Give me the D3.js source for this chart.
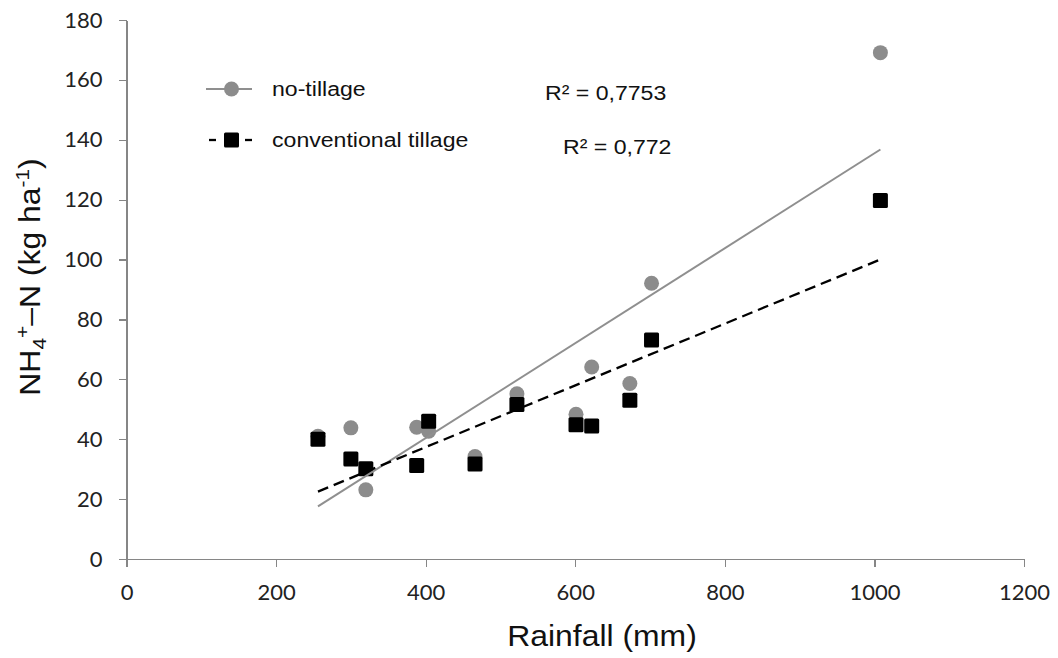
<!DOCTYPE html>
<html lang="en">
<head>
<meta charset="utf-8">
<title>NH4-N vs rainfall</title>
<script src="https://d3js.org/d3.v7.min.js"></script>
<style>
body { margin: 0; background: #fff; }
.axis path, .axis line { fill: none; stroke: #868686; stroke-width: 1.3; shape-rendering: crispEdges; }
.axis text { font: 22px Lato, sans-serif; fill: #222; }
.title { font-family: "Liberation Sans", Arial, sans-serif; fill: #111; }
</style>
</head>
<body>
<div id="chart"></div>
<script>
// values
var rainfall   = [256, 300, 320, 388, 404, 466, 522, 601, 622, 673, 702, 1008];
var noTillage  = [41, 43.8, 23.1, 44, 42.7, 34.2, 55.2, 48.3, 64.1, 58.6, 92.1, 169.1];
var convTillage = [40, 33.4, 30.1, 31.2, 46, 31.7, 51.6, 44.8, 44.4, 53, 73.1, 119.7];
var seriesNames = ["no-tillage", "conventional tillage"];
var r2Labels = ["R\u00b2 = 0,7753", "R\u00b2 = 0,772"];
var xTicks = [0, 200, 400, 600, 800, 1000, 1200];
var yTicks = [0, 20, 40, 60, 80, 100, 120, 140, 160, 180];

var W = 1058, H = 658;
var sx = 1.1; // the source text is a little wider than it is tall

var svg = d3.select("#chart").append("svg")
  .attr("width", W)
  .attr("height", H);

var x = d3.scaleLinear().domain([0, 1200]).range([126.5, 1024]);
var y = d3.scaleLinear().domain([0, 180]).range([559, 20]);

// axes
svg.append("g")
  .attr("class", "axis")
  .attr("transform", "translate(0," + y(0) + ")")
  .call(d3.axisBottom(x).tickValues(xTicks).tickSize(8).tickSizeOuter(0).tickPadding(17).tickFormat(d3.format("d")));

svg.append("g")
  .attr("class", "axis")
  .attr("transform", "translate(" + x(0) + ",0)")
  .call(d3.axisLeft(y).tickValues(yTicks).tickSize(8).tickSizeOuter(0).tickPadding(16).tickFormat(d3.format("d")));

// least squares fit, drawn from first to last rainfall value
function fit(xs, ys) {
  var mx = d3.mean(xs), my = d3.mean(ys);
  var sxy = d3.sum(xs, function(v, i) { return (v - mx) * (ys[i] - my); });
  var sxx = d3.sum(xs, function(v) { return (v - mx) * (v - mx); });
  var b = sxy / sxx;
  return { b: b, a: my - b * mx };
}

var series = [
  { name: seriesNames[0], vals: noTillage, color: "#8c8c8c", dash: null, shape: "circle" },
  { name: seriesNames[1], vals: convTillage, color: "#000", dash: "11,6", shape: "square" }
];

var xr = d3.extent(rainfall);
var line = d3.line().x(function(d) { return x(d[0]); }).y(function(d) { return y(d[1]); });

function drawMarker(g, shape, color, cx, cy) {
  if (shape == "circle") {
    g.append("circle").attr("cx", cx).attr("cy", cy).attr("r", 7.5).attr("fill", color);
  } else {
    g.append("rect").attr("x", cx - 7.5).attr("y", cy - 7.5)
      .attr("width", 15).attr("height", 15).attr("rx", 1.5).attr("fill", color);
  }
}

// points
series.forEach(function(s) {
  var g = svg.append("g");
  s.vals.forEach(function(v, i) {
    drawMarker(g, s.shape, s.color, x(rainfall[i]), y(v));
  });
});

// trend lines on top of the markers
series.forEach(function(s) {
  var f = fit(rainfall, s.vals);
  svg.append("path")
    .attr("d", line([[xr[0], f.a + f.b * xr[0]], [xr[1], f.a + f.b * xr[1]]]))
    .attr("fill", "none")
    .attr("stroke", s.color == "#000" ? "#000" : "#8f8f8f")
    .attr("stroke-width", s.dash ? 2.3 : 2)
    .attr("stroke-dasharray", s.dash);
});

// legend
var legRows = [89, 140];
series.forEach(function(s, i) {
  var g = svg.append("g");
  var ly = legRows[i];
  if (s.dash) {
    g.append("line").attr("x1", 209).attr("x2", 216).attr("y1", ly).attr("y2", ly)
      .attr("stroke", "#000").attr("stroke-width", 2.3);
    g.append("line").attr("x1", 245).attr("x2", 252).attr("y1", ly).attr("y2", ly)
      .attr("stroke", "#000").attr("stroke-width", 2.3);
  } else {
    g.append("line").attr("x1", 206).attr("x2", 252).attr("y1", ly).attr("y2", ly)
      .attr("stroke", "#8f8f8f").attr("stroke-width", 2);
  }
  drawMarker(g, s.shape, s.color, 231.5, ly);
  g.append("text")
    .attr("class", "title")
    .attr("transform", "translate(272," + (ly + 6.5) + ") scale(" + sx + ",1)")
    .attr("font-size", 21)
    .text(s.name);
});

// R squared labels
var r2Pos = [[545, 99.5], [563, 153.5]];
r2Labels.forEach(function(t, i) {
  svg.append("text")
    .attr("class", "title")
    .attr("transform", "translate(" + r2Pos[i][0] + "," + r2Pos[i][1] + ") scale(" + sx + ",1)")
    .attr("font-size", 21)
    .text(t);
});

// axis titles
svg.append("text")
  .attr("class", "title")
  .attr("text-anchor", "middle")
  .attr("transform", "translate(602,646) scale(" + sx + ",1)")
  .attr("font-size", 29)
  .text("Rainfall (mm)");

var yt = svg.append("text")
  .attr("class", "title")
  .attr("text-anchor", "middle")
  .attr("transform", "translate(40,277) rotate(-90) scale(" + sx + ",1)")
  .attr("font-size", 29);
yt.append("tspan").text("NH");
yt.append("tspan").attr("font-size", 19).attr("dy", 6).text("4");
yt.append("tspan").attr("font-size", 19).attr("dy", -17).text("+");
yt.append("tspan").attr("dy", 11).text("\u2013N (kg ha");
yt.append("tspan").attr("font-size", 19).attr("dy", -11).text("-1");
yt.append("tspan").attr("dy", 11).text(")");
</script>
</body>
</html>
